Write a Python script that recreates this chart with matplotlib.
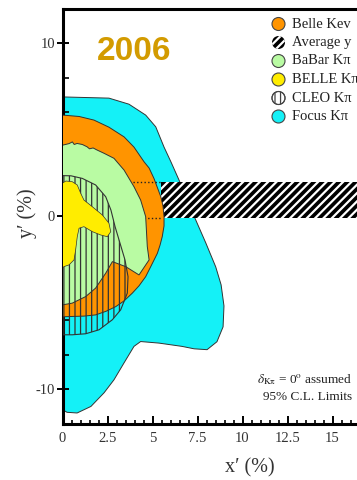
import matplotlib
matplotlib.use('Agg')
import matplotlib.pyplot as plt
from matplotlib.patches import Circle
from matplotlib.ticker import MultipleLocator

plt.rcParams['hatch.linewidth'] = 0.9
plt.rcParams['mathtext.fontset'] = 'stix'
plt.rcParams['axes.unicode_minus'] = False

# 95% C.L. contours in the (x', y') plane, in %
focus_x = [0, 2.58, 3.69, 4.62, 5.18, 5.64, 6.03, 6.47, 6.92, 7.40, 7.96, 8.51, 8.81, 8.97,
           8.92, 8.58, 8.03, 7.31, 6.64, 5.36, 4.34, 3.97, 3.42, 2.86, 2.31, 1.58, 0.81, 0.25, 0]
focus_y = [6.90, 6.83, 6.48, 5.85, 5.17, 4.00, 3.13, 2.10, 0.94, -0.21, -1.54, -2.92, -3.96, -5.18,
           -6.39, -7.25, -7.71, -7.66, -7.52, -7.33, -7.24, -7.52, -8.47, -9.45, -10.20, -10.99, -11.37, -11.33, -11.18]

kev_x = [0, 0.92, 1.75, 2.58, 3.42, 3.97, 4.53, 4.81, 5.08, 5.46, 5.58, 5.64, 5.64, 5.54, 5.42,
         5.27, 4.92, 4.62, 4.25, 3.88, 3.42, 2.96, 2.42, 1.84, 1.19, 0.54, 0]
kev_y = [5.85, 5.77, 5.56, 5.15, 4.59, 4.00, 3.15, 2.79, 2.19, 1.13, 0.60, -0.02, -0.56, -1.18, -1.66,
         -2.14, -2.87, -3.49, -4.02, -4.44, -4.89, -5.22, -5.49, -5.70, -5.77, -5.79, -5.81]

babar_x = [0, 0.36, 0.55, 0.65, 0.81, 1.10, 1.36, 1.50, 1.70, 1.92, 2.31, 2.86, 3.42, 3.97, 4.34,
           4.62, 4.71, 4.81, 4.25, 3.51, 2.77, 2.40, 1.84, 1.29, 0.54, 0]
babar_y = [4.11, 4.20, 4.30, 4.15, 4.21, 4.15, 4.02, 3.90, 3.95, 3.83, 3.64, 3.35, 2.67, 1.71, 0.94,
           -0.02, -1.75, -2.52, -3.39, -2.91, -2.62, -3.29, -4.15, -4.64, -5.02, -5.12]

cleo_x = [0, 0.47, 1.10, 1.84, 2.40, 2.69, 2.92, 3.19, 3.47, 3.64, 3.60, 3.23, 2.77, 2.03, 1.29, 0.54, 0]
cleo_y = [2.35, 2.34, 2.19, 1.81, 1.13, 0.36, -0.60, -1.54, -2.52, -3.49, -4.44, -5.41, -5.98,
          -6.56, -6.79, -6.85, -6.85]

bellekpi_x = [0, 0.19, 0.54, 0.82, 1.01, 1.19, 1.66, 2.21, 2.58, 2.68, 2.49, 2.12, 1.66, 1.19,
              0.92, 0.82, 0.73, 0.64, 0.36, 0.08, 0]
bellekpi_y = [1.92, 2.04, 2.00, 1.81, 1.33, 0.94, 0.55, 0.08, -0.40, -0.89, -1.18, -1.08, -0.89,
              -0.60, -0.69, -1.18, -1.94, -2.52, -2.81, -2.91, -2.98]

# average y band
avg_y_lo = -0.1
avg_y_hi = 2.0
band_x0 = 5.45

labels = ['Belle Kev', 'Average y', 'BaBar K\u03c0', 'BELLE K\u03c0', 'CLEO K\u03c0', 'Focus K\u03c0']
colors = ['#FF9400', 'black', '#B9FBA3', '#FFED00', 'white', '#14F1F7']

serif = ['Liberation Serif', 'DejaVu Serif']
edge = '#333333'


def thick_hatch(artists, w):
    # per-artist hatch width when the matplotlib version has it
    for a in artists:
        if hasattr(a, 'set_hatch_linewidth'):
            a.set_hatch_linewidth(w)


fig = plt.figure(figsize=(3.57, 4.8), dpi=100)
ax = fig.add_axes([0.1751, 0.1169, 0.837, 0.865])

ax.fill(focus_x, focus_y, facecolor=colors[5], edgecolor=edge, lw=0.7, zorder=1)
band = ax.fill([band_x0, 20, 20, band_x0], [avg_y_lo, avg_y_lo, avg_y_hi, avg_y_hi],
               facecolor='black', edgecolor='white', hatch='////', lw=0, zorder=2)
thick_hatch(band, 1.6)
ax.fill(kev_x, kev_y, facecolor=colors[0], edgecolor=edge, lw=0.7, zorder=3)
ax.plot([0, band_x0], [avg_y_hi, avg_y_hi], ls=':', color='#222222', lw=1.0, zorder=4)
ax.plot([0, band_x0], [avg_y_lo, avg_y_lo], ls=':', color='#222222', lw=1.0, zorder=4)
ax.fill(babar_x, babar_y, facecolor=colors[2], edgecolor=edge, lw=0.7, zorder=5)
ax.fill(cleo_x, cleo_y, fill=False, edgecolor=edge, hatch='|||', lw=0.8, zorder=6)
ax.fill(bellekpi_x, bellekpi_y, facecolor=colors[3], edgecolor=edge, lw=0.5, zorder=7)

ax.set_xlim(0, 16.6)
ax.set_ylim(-12, 12)

# Axes frame and ticks
for side in ['left', 'bottom', 'top', 'right']:
    ax.spines[side].set_linewidth(2.2)
ax.xaxis.set_major_locator(MultipleLocator(2.5))
ax.xaxis.set_minor_locator(MultipleLocator(0.5))
ax.yaxis.set_major_locator(MultipleLocator(10))
ax.yaxis.set_minor_locator(MultipleLocator(2))
ax.xaxis.set_major_formatter(plt.FuncFormatter(lambda v, p: '%g' % v))
ax.tick_params(axis='x', which='major', direction='in', length=6, width=1.4, pad=6)
ax.tick_params(axis='x', which='minor', direction='in', length=3, width=1.2)
ax.tick_params(axis='y', which='major', direction='inout', length=9, width=1.4, pad=1)
ax.tick_params(axis='y', which='minor', direction='in', length=4, width=1.2)
for lab in ax.get_xticklabels() + ax.get_yticklabels():
    lab.set_family(serif)
    lab.set_fontsize(10.5)
    lab.set_color('#333333')

ax.set_xlabel('x\u2032 (%)', family=serif, fontsize=14.5, color='#333333')
ax.set_ylabel('y\u2032 (%)', family=serif, fontsize=14.5, color='#333333')
ax.xaxis.set_label_coords(0.628, -0.105)
ax.xaxis.label.set_va('center')
ax.yaxis.set_label_coords(-0.118, 0.508)
ax.yaxis.label.set_va('center')

fig.text(134 / 357, 1 - 51 / 480, '2006', family='Liberation Sans', weight='bold',
         fontsize=24, color='#D39B00', ha='center', va='center')

# Legend with round markers
hatches = [None, '////', None, None, '|||', None]
for i, lab in enumerate(labels):
    cy = 24 + i * 18.5
    fc = colors[i]
    ec = 'white' if lab == 'Average y' else '#444444'
    c = Circle((278.5 / 100, (480 - cy) / 100), 6.5 / 100, transform=fig.dpi_scale_trans,
               facecolor=fc, edgecolor=ec, hatch=hatches[i], lw=0.8 if lab != 'Average y' else 0)
    fig.add_artist(c)
    if lab == 'Average y':
        thick_hatch([c], 1.6)
    if lab == 'CLEO K\u03c0':
        fig.add_artist(Circle((278.5 / 100, (480 - cy) / 100), 6.5 / 100, transform=fig.dpi_scale_trans,
                              fill=False, edgecolor='#444444', lw=0.8))
    fig.text(291.5 / 357, 1 - cy / 480, lab, family=serif, fontsize=10.5, color='#222222',
             ha='left', va='center')

fig.text(352 / 357, 1 - 380 / 480, r'$\delta_{\mathrm{K\pi}}$ = 0$^{\mathrm{o}}$ assumed', family=serif,
         fontsize=9.5, color='#222222', ha='right', va='center')
fig.text(352 / 357, 1 - 397 / 480, '95% C.L. Limits', family=serif,
         fontsize=9.5, color='#222222', ha='right', va='center')

plt.savefig('out.png', dpi=100)
